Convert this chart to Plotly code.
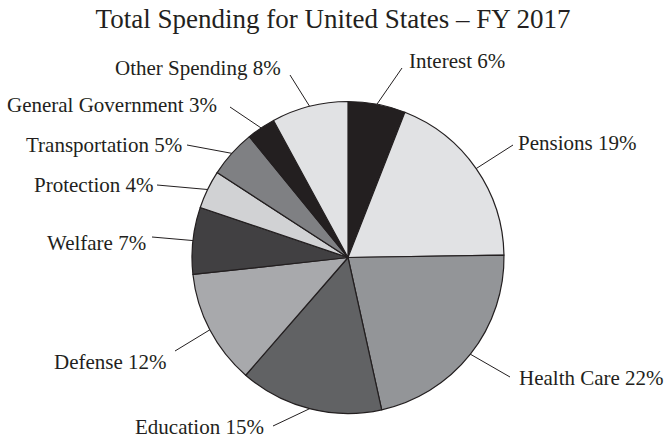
import math
import plotly.graph_objects as go

# Spending shares, FY 2017 (percent), clockwise from 12 o'clock
categories = ["Interest", "Pensions", "Health Care", "Education", "Defense",
              "Welfare", "Protection", "Transportation", "General Government",
              "Other Spending"]
shares = [6, 19, 22, 15, 12, 7, 4, 5, 3, 8]
colors = ["#231f20", "#e1e2e4", "#939598", "#616264", "#a8a9ac",
          "#414042", "#d1d2d4", "#7f8083", "#231f20", "#e1e2e4"]

W, H = 666, 439
CX, CY, R = 348.0, 257.5, 156.0   # pie centre and radius in pixels

# Where each leader line ends (px) and where its label is anchored
line_ends = [(402, 68), (513, 145), (510, 377), (273, 426), (175, 351),
             (152, 237), (157, 185), (187, 145), (230, 107), (290, 75)]
text_pos = [(407, 61), (516, 143), (517, 378), (266, 427), (169, 362),
            (148, 243), (156, 185), (184, 145), (219, 105), (283, 68)]
sides = ["left", "left", "left", "right", "right",
         "right", "right", "right", "right", "right"]

FONT = "Liberation Serif, Times New Roman, serif"


def px(x):
    return x / W


def py(y):
    return 1 - y / H


fig = go.Figure(go.Pie(
    labels=categories,
    values=shares,
    sort=False,
    direction="clockwise",
    rotation=0,
    marker=dict(colors=colors, line=dict(color="#231f20", width=1.2)),
    textinfo="none",
    hoverinfo="label+percent",
    showlegend=False,
    domain=dict(x=[px(CX - R), px(CX + R)], y=[py(CY + R), py(CY - R)]),
))

total = sum(shares)
shapes, annotations = [], []
cum = 0
for name, val, end, tp, side in zip(categories, shares, line_ends, text_pos, sides):
    mid = (cum + val / 2) / total * 2 * math.pi
    cum += val
    ex = CX + R * math.sin(mid)
    ey = CY - R * math.cos(mid)
    shapes.append(dict(type="line", xref="paper", yref="paper",
                       x0=px(ex), y0=py(ey), x1=px(end[0]), y1=py(end[1]),
                       line=dict(color="#231f20", width=1)))
    annotations.append(dict(text=f"{name} {val}%", xref="paper", yref="paper",
                            x=px(tp[0]), y=py(tp[1]), xanchor=side,
                            yanchor="middle", showarrow=False,
                            font=dict(family=FONT, size=21, color="#231f20")))

fig.update_layout(
    width=W, height=H,
    margin=dict(l=0, r=0, t=0, b=0),
    paper_bgcolor="white",
    title=dict(text="Total Spending for United States \u2013 FY 2017",
               x=0.5, xanchor="center", y=py(19), yanchor="middle",
               font=dict(family=FONT, size=27, color="#231f20")),
    shapes=shapes,
    annotations=annotations,
)

fig.write_html("out.html")
